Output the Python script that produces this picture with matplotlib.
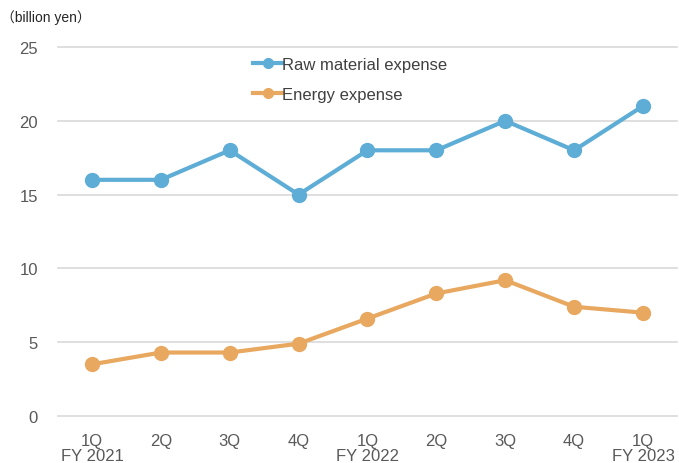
import matplotlib
matplotlib.use("Agg")
import matplotlib.pyplot as plt

plt.rcParams['font.family'] = ['Liberation Sans', 'Noto Sans CJK JP', 'DejaVu Sans']

quarters = ["1Q\nFY 2021", "2Q", "3Q", "4Q", "1Q\nFY 2022", "2Q", "3Q", "4Q", "1Q\nFY 2023"]
raw_material = [16, 16, 18, 15, 18, 18, 20, 18, 21]
energy = [3.5, 4.3, 4.3, 4.9, 6.6, 8.3, 9.2, 7.4, 7.0]
y_ticks = [0, 5, 10, 15, 20, 25]

blue = "#5DADD6"
orange = "#E8A85F"
tick_color = "#595959"

fig = plt.figure(figsize=(6.79, 4.64), dpi=100)
ax = fig.add_axes([0.0847, 0.1013, 0.913, 0.7953])

x = list(range(len(quarters)))
ax.plot(x, raw_material, color=blue, lw=3, marker="o", ms=10,
        label="Raw material expense", zorder=3)
ax.plot(x, energy, color=orange, lw=3, marker="o", ms=10,
        label="Energy expense", zorder=3)

ax.set_xlim(-0.5, len(quarters) - 0.5)
ax.set_ylim(0, 25)
ax.set_yticks(y_ticks)
ax.set_xticks(x)
ax.set_xticklabels(quarters, fontsize=12, color=tick_color, linespacing=1.05)
ax.tick_params(axis="y", labelsize=12, labelcolor=tick_color, length=0, pad=14)
ax.tick_params(axis="x", length=0, pad=12)
ax.grid(axis="y", color="#D9D9D9", lw=1.2, clip_on=False)
ax.set_axisbelow(True)
for s in ax.spines.values():
    s.set_visible(False)

leg = ax.legend(loc="upper left", bbox_to_anchor=(0.3, 1.0), frameon=False,
                fontsize=12, handlelength=1.7, handletextpad=0.0,
                labelspacing=0.88, markerscale=0.7, borderaxespad=0.2)
for t in leg.get_texts():
    t.set_color("#404040")

fig.text(0.002, 0.962, "（billion yen）", fontsize=10, color="#262626",
         ha="left", va="center")

fig.savefig("out.png", dpi=100)
